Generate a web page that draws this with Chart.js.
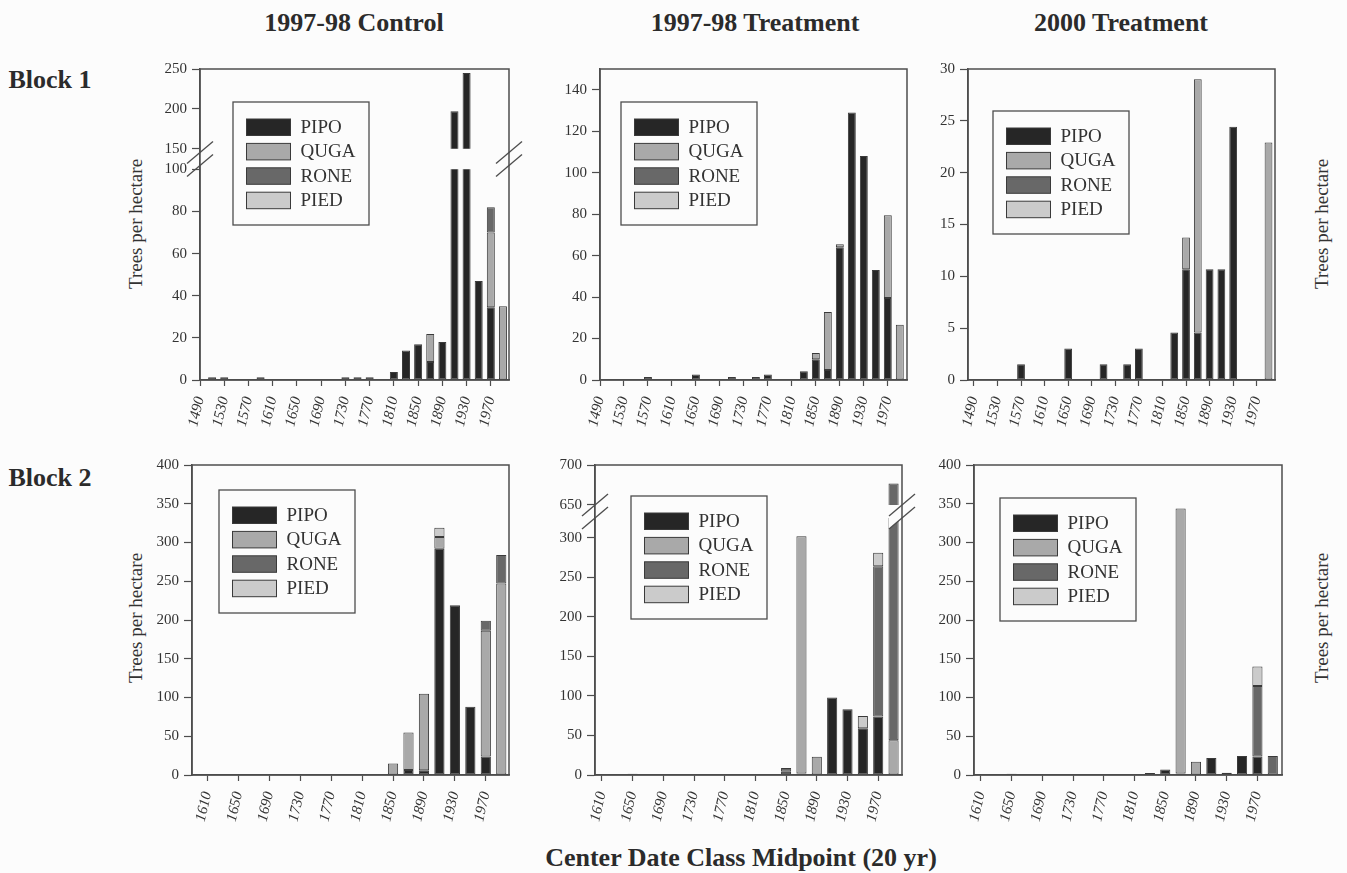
<!DOCTYPE html>
<html>
<head>
<meta charset="utf-8">
<title>Trees per hectare by center date class</title>
<script src="https://cdn.jsdelivr.net/npm/chart.js@4.4.1/dist/chart.umd.min.js"></script>
<style>
  html, body { margin: 0; padding: 0; background: #fcfcfc; }
  #fig { position: relative; width: 1347px; height: 873px; overflow: hidden;
         font-family: "Liberation Serif", "Times New Roman", serif; color: #2b2b2b; }
  #fig canvas { position: absolute; }
  .lbl { position: absolute; white-space: nowrap; line-height: 1; transform: translate(-50%, -50%); }
  .bold { font-weight: bold; font-size: 26px; }
  .ytitle { font-size: 19px; transform: translate(-50%, -50%) rotate(-90deg); color: #333; }
</style>
</head>
<body>
<div id="fig">
  <div class="lbl bold" style="left:354px; top:23px">1997-98 Control</div>
  <div class="lbl bold" style="left:755px; top:23px">1997-98 Treatment</div>
  <div class="lbl bold" style="left:1121px; top:23px">2000 Treatment</div>
  <div class="lbl bold" style="left:50px; top:80px">Block 1</div>
  <div class="lbl bold" style="left:50px; top:478px">Block 2</div>
  <div class="lbl ytitle" style="left:135px; top:224px">Trees per hectare</div>
  <div class="lbl ytitle" style="left:135px; top:618px">Trees per hectare</div>
  <div class="lbl ytitle" style="left:1321px; top:224px">Trees per hectare</div>
  <div class="lbl ytitle" style="left:1321px; top:618px">Trees per hectare</div>
  <div class="lbl bold" style="left:741px; top:858px">Center Date Class Midpoint (20 yr)</div>
</div>
<script>
// 20-yr date classes (class midpoints)
const years1 = [1490, 1510, 1530, 1550, 1570, 1590, 1610, 1630, 1650, 1670, 1690, 1710, 1730,
                1750, 1770, 1790, 1810, 1830, 1850, 1870, 1890, 1910, 1930, 1950, 1970, 1990];
const years2 = [1610, 1630, 1650, 1670, 1690, 1710, 1730, 1750, 1770, 1790,
                1810, 1830, 1850, 1870, 1890, 1910, 1930, 1950, 1970, 1990];
const ticks1 = [1490, 1530, 1570, 1610, 1650, 1690, 1730, 1770, 1810, 1850, 1890, 1930, 1970];
const ticks2 = [1610, 1650, 1690, 1730, 1770, 1810, 1850, 1890, 1930, 1970];

const species = ['PIPO', 'QUGA', 'RONE', 'PIED'];
const speciesColors = ['#262626', '#a9a9a9', '#686868', '#cbcbcb'];

// Block 1, 1997-98 control
const b1ControlPIPO = [0, 1.3, 1.3, 0, 0, 1.3, 0, 0, 0, 0, 0, 0, 1.3, 1.3, 1.3, 0, 3.8, 14, 17, 8.5, 18, 197, 245, 47, 34.5, 0];
const b1ControlQUGA = [0, 0, 0, 0, 0, 0, 0, 0, 0, 0, 0, 0, 0, 0, 0, 0, 0, 0, 0, 13.3, 0, 0, 0, 0, 35.5, 35];
const b1ControlRONE = [0, 0, 0, 0, 0, 0, 0, 0, 0, 0, 0, 0, 0, 0, 0, 0, 0, 0, 0, 0, 0, 0, 0, 0, 12, 0];
const b1ControlPIED = [0, 0, 0, 0, 0, 0, 0, 0, 0, 0, 0, 0, 0, 0, 0, 0, 0, 0, 0, 0, 0, 0, 0, 0, 0, 0];

// Block 1, 1997-98 treatment
const b1TreatPIPO = [0, 0, 0, 0, 1.5, 0, 0, 0, 2.7, 0, 0, 1.5, 0, 1.5, 2.7, 0, 0, 4.2, 10, 4.8, 64, 129, 108, 53, 39.5, 0];
const b1TreatQUGA = [0, 0, 0, 0, 0, 0, 0, 0, 0, 0, 0, 0, 0, 0, 0, 0, 0, 0, 3, 28, 1.5, 0, 0, 0, 40, 26.6];
const b1TreatRONE = [0, 0, 0, 0, 0, 0, 0, 0, 0, 0, 0, 0, 0, 0, 0, 0, 0, 0, 0, 0, 0, 0, 0, 0, 0, 0];
const b1TreatPIED = [0, 0, 0, 0, 0, 0, 0, 0, 0, 0, 0, 0, 0, 0, 0, 0, 0, 0, 0, 0, 0, 0, 0, 0, 0, 0];

// Block 1, 2000 treatment
const b1T2000PIPO = [0, 0, 0, 0, 1.53, 0, 0, 0, 3.05, 0, 0, 1.53, 0, 1.53, 3.05, 0, 0, 4.58, 10.69, 4.58, 10.69, 10.69, 24.43, 0, 0, 0];
const b1T2000QUGA = [0, 0, 0, 0, 0, 0, 0, 0, 0, 0, 0, 0, 0, 0, 0, 0, 0, 0, 3.05, 24.43, 0, 0, 0, 0, 0, 22.9];
const b1T2000RONE = [0, 0, 0, 0, 0, 0, 0, 0, 0, 0, 0, 0, 0, 0, 0, 0, 0, 0, 0, 0, 0, 0, 0, 0, 0, 0];
const b1T2000PIED = [0, 0, 0, 0, 0, 0, 0, 0, 0, 0, 0, 0, 0, 0, 0, 0, 0, 0, 0, 0, 0, 0, 0, 0, 0, 0];

// Block 2, 1997-98 control
const b2ControlPIPO = [0, 0, 0, 1, 0, 1, 0, 0, 1, 0, 0, 1, 0, 6.5, 6, 292, 219, 88, 24, 0];
const b2ControlQUGA = [0, 0, 0, 0, 0, 0, 0, 0, 0, 0, 0, 0, 15, 48.5, 99, 15, 0, 0, 162, 247];
const b2ControlRONE = [0, 0, 0, 0, 0, 0, 0, 0, 0, 0, 0, 0, 0, 0, 0, 0, 0, 0, 13, 37];
const b2ControlPIED = [0, 0, 0, 0, 0, 0, 0, 0, 0, 0, 0, 0, 0, 0, 0, 12, 0, 0, 0, 0];

// Block 2, 1997-98 treatment
const b2TreatPIPO = [0, 0, 1.5, 0, 0, 0, 0, 0, 0, 0, 1, 1, 4, 2, 0, 98, 83, 59, 74, 0];
const b2TreatQUGA = [0, 0, 0, 0, 0, 0, 0, 0, 0, 0, 0, 0, 0, 300, 23, 0, 0, 0, 0, 44];
const b2TreatRONE = [0, 0, 0, 0, 0, 0, 0, 0, 0, 0, 0, 0, 5, 0, 0, 0, 0, 0, 190, 633];
const b2TreatPIED = [0, 0, 0, 0, 0, 0, 0, 0, 0, 0, 0, 0, 0, 0, 0, 0, 0, 15.5, 17, 0];

// Block 2, 2000 treatment
const b2T2000PIPO = [0, 0, 1.5, 0, 0, 0, 0, 0, 0, 0, 0, 2.5, 7, 2, 0, 22, 3, 24.5, 24, 0];
const b2T2000QUGA = [0, 0, 0, 0, 0, 0, 0, 0, 0, 0, 0, 0, 0, 342, 17, 0, 0, 0, 0, 0];
const b2T2000RONE = [0, 0, 0, 0, 0, 0, 0, 0, 0, 0, 0, 0, 0, 0, 0, 0, 0, 0, 91, 24.5];
const b2T2000PIED = [0, 0, 0, 0, 0, 0, 0, 0, 0, 0, 0, 0, 0, 0, 0, 0, 0, 0, 25, 0];

const yTicksB1Control = [0, 20, 40, 60, 80, 100, 150, 200, 250];
const yTicksB1Treat = [0, 20, 40, 60, 80, 100, 120, 140];
const yTicksB1T2000 = [0, 5, 10, 15, 20, 25, 30];
const yTicks400 = [0, 50, 100, 150, 200, 250, 300, 350, 400];
const yTicksB2Treat = [0, 50, 100, 150, 200, 250, 300, 650, 700];

const textColor = '#333333';
const axisColor = '#4d4d4d';
const barEdge = '#3a3a3a';
const paper = '#fcfcfc';
const serif = '"Liberation Serif", "Times New Roman", serif';

// linear axis with a cut between lowMax and highMin
class BrokenScale extends Chart.LinearScale {
  static id = 'broken';
  _marks() {
    const h = this.bottom - this.top;
    return { yLow: this.bottom - this.options.lowFrac * h, yHigh: this.top + this.options.highFrac * h };
  }
  getPixelForValue(value) {
    const o = this.options;
    const { yLow, yHigh } = this._marks();
    if (value <= o.lowMax) return this.bottom - (value - this.min) / (o.lowMax - this.min) * (this.bottom - yLow);
    if (value >= o.highMin) return yHigh - (value - o.highMin) / (this.max - o.highMin) * (yHigh - this.top);
    return yLow - (value - o.lowMax) / (o.highMin - o.lowMax) * (yLow - yHigh);
  }
  getValueForPixel(pixel) {
    const o = this.options;
    const { yLow, yHigh } = this._marks();
    if (pixel >= yLow) return this.min + (this.bottom - pixel) / (this.bottom - yLow) * (o.lowMax - this.min);
    if (pixel <= yHigh) return o.highMin + (yHigh - pixel) / (yHigh - this.top) * (this.max - o.highMin);
    return o.lowMax + (yLow - pixel) / (yLow - yHigh) * (o.highMin - o.lowMax);
  }
}
Chart.register(BrokenScale);

// frame, axis break marks and the boxed legend
const panelDeco = {
  id: 'panelDeco',
  beforeDatasetsDraw(chart) {
    const y = chart.scales.y;
    if (y.type !== 'broken') return;
    const { left, right, top, bottom } = chart.chartArea;
    const yLow = y.getPixelForValue(y.options.lowMax);
    const yHigh = y.getPixelForValue(y.options.highMin);
    const ctx = chart.ctx;
    ctx.save();
    ctx.beginPath();
    ctx.rect(left, top, right - left, yHigh - top);
    ctx.rect(left, yLow, right - left, bottom - yLow);
    ctx.clip();
  },
  afterDatasetsDraw(chart) {
    const y = chart.scales.y;
    if (y.type !== 'broken') return;
    const ctx = chart.ctx;
    ctx.restore();
    const { left, right, top, bottom } = chart.chartArea;
    const yc = (y.getPixelForValue(y.options.lowMax) + y.getPixelForValue(y.options.highMin)) / 2;
    ctx.save();
    ctx.beginPath();
    ctx.rect(left, top, right - left, bottom - top);
    ctx.clip();
    ctx.fillStyle = paper;
    [left, right].forEach(x => {
      ctx.beginPath();
      ctx.moveTo(x - 13, yc - 6.5 + 11);
      ctx.lineTo(x + 13, yc - 6.5 - 11);
      ctx.lineTo(x + 13, yc + 6.5 - 11);
      ctx.lineTo(x - 13, yc + 6.5 + 11);
      ctx.closePath();
      ctx.fill();
    });
    ctx.restore();
  },
  afterDraw(chart, args, opts) {
    const ctx = chart.ctx;
    const { left, right, top, bottom } = chart.chartArea;
    ctx.save();
    ctx.strokeStyle = axisColor;
    ctx.lineWidth = 1.5;
    ctx.strokeRect(left, top, right - left, bottom - top);

    const y = chart.scales.y;
    if (y.type === 'broken') {
      const yc = (y.getPixelForValue(y.options.lowMax) + y.getPixelForValue(y.options.highMin)) / 2;
      ctx.lineWidth = 1.3;
      [left, right].forEach(x => {
        [-6.5, 6.5].forEach(off => {
          ctx.beginPath();
          ctx.moveTo(x - 13, yc + off + 11);
          ctx.lineTo(x + 13, yc + off - 11);
          ctx.stroke();
        });
      });
    }

    // legend box
    const bx = left + opts.legendX, by = top + opts.legendY;
    ctx.fillStyle = paper;
    ctx.fillRect(bx, by, 136, 123);
    ctx.lineWidth = 1.3;
    ctx.strokeStyle = axisColor;
    ctx.strokeRect(bx, by, 136, 123);
    ctx.font = '19px ' + serif;
    ctx.textBaseline = 'middle';
    ctx.textAlign = 'left';
    chart.data.datasets.forEach((ds, i) => {
      const sy = by + 17 + i * 24.4;
      ctx.fillStyle = ds.backgroundColor;
      ctx.fillRect(bx + 13.5, sy, 44, 16.5);
      ctx.lineWidth = 1;
      ctx.strokeStyle = ds.borderColor;
      ctx.strokeRect(bx + 13.5, sy, 44, 16.5);
      ctx.fillStyle = textColor;
      ctx.fillText(ds.label, bx + 67.5, sy + 9);
    });
    ctx.restore();
  }
};

const panels = [
  { plot: { x: 200, y: 69, w: 309, h: 311 }, years: years1, xTicks: ticks1, xMin: 1490, xMax: 2000,
    series: [b1ControlPIPO, b1ControlQUGA, b1ControlRONE, b1ControlPIED],
    y: { type: 'broken', min: 0, max: 250, lowMax: 100, highMin: 150, lowFrac: 0.6775, highFrac: 0.2563 },
    yTicks: yTicksB1Control, legend: [33, 33] },
  { plot: { x: 600, y: 69, w: 307, h: 311 }, years: years1, xTicks: ticks1, xMin: 1490, xMax: 2002,
    series: [b1TreatPIPO, b1TreatQUGA, b1TreatRONE, b1TreatPIED],
    y: { type: 'linear', min: 0, max: 150 }, yTicks: yTicksB1Treat, legend: [21, 33] },
  { plot: { x: 968, y: 69, w: 307, h: 311 }, years: years1, xTicks: ticks1, xMin: 1480, xMax: 2001,
    series: [b1T2000PIPO, b1T2000QUGA, b1T2000RONE, b1T2000PIED],
    y: { type: 'linear', min: 0, max: 30 }, yTicks: yTicksB1T2000, legend: [25, 42] },
  { plot: { x: 192, y: 465, w: 317, h: 310 }, years: years2, xTicks: ticks2, xMin: 1590, xMax: 2000,
    series: [b2ControlPIPO, b2ControlQUGA, b2ControlRONE, b2ControlPIED],
    y: { type: 'linear', min: 0, max: 400 }, yTicks: yTicks400, legend: [27, 25] },
  { plot: { x: 595, y: 465, w: 307, h: 310 }, years: years2, xTicks: ticks2, xMin: 1601, xMax: 2001,
    series: [b2TreatPIPO, b2TreatQUGA, b2TreatRONE, b2TreatPIED],
    y: { type: 'broken', min: 0, max: 700, lowMax: 325, highMin: 650, lowFrac: 0.829, highFrac: 0.129 },
    yTicks: yTicksB2Treat, legend: [36, 31] },
  { plot: { x: 974, y: 465, w: 308, h: 310 }, years: years2, xTicks: ticks2, xMin: 1601, xMax: 2002,
    series: [b2T2000PIPO, b2T2000QUGA, b2T2000RONE, b2T2000PIED],
    y: { type: 'linear', min: 0, max: 400 }, yTicks: yTicks400, legend: [26, 33] }
];

const AXIS_W = 64, AXIS_H = 60, PAD_T = 14, PAD_R = 18;
const fig = document.getElementById('fig');

panels.forEach(p => {
  const cv = document.createElement('canvas');
  const w = AXIS_W + p.plot.w + PAD_R;
  const h = PAD_T + p.plot.h + AXIS_H;
  cv.width = w;
  cv.height = h;
  cv.style.left = (p.plot.x - AXIS_W) + 'px';
  cv.style.top = (p.plot.y - PAD_T) + 'px';
  cv.style.width = w + 'px';
  cv.style.height = h + 'px';
  fig.appendChild(cv);

  new Chart(cv, {
    type: 'bar',
    data: {
      labels: p.years,
      datasets: species.map((name, i) => ({
        label: name,
        data: p.series[i],
        backgroundColor: speciesColors[i],
        borderColor: barEdge,
        borderWidth: 1,
        borderSkipped: false,
        barPercentage: 0.66,
        categoryPercentage: 1
      }))
    },
    options: {
      responsive: false,
      animation: false,
      devicePixelRatio: 1,
      events: [],
      layout: { padding: { top: PAD_T, right: PAD_R, left: 0, bottom: 0 } },
      plugins: {
        legend: { display: false },
        tooltip: { enabled: false },
        panelDeco: { legendX: p.legend[0], legendY: p.legend[1] }
      },
      scales: {
        x: {
          type: 'linear',
          bounds: 'data',
          offset: false,
          min: p.xMin,
          max: p.xMax,
          stacked: true,
          afterBuildTicks: axis => { axis.ticks = p.xTicks.map(v => ({ value: v })); },
          afterFit: axis => { axis.height = AXIS_H; },
          grid: { offset: false, drawOnChartArea: false, drawTicks: true, tickLength: 6, tickColor: axisColor, tickWidth: 1.2 },
          border: { display: true, color: axisColor, width: 1.5 },
          ticks: {
            autoSkip: false,
            minRotation: 77,
            maxRotation: 77,
            padding: 9,
            color: textColor,
            font: { family: serif, size: 15, style: 'italic' },
            callback: v => String(v)
          }
        },
        y: Object.assign({
          bounds: 'data',
          stacked: true,
          afterBuildTicks: axis => { axis.ticks = p.yTicks.map(v => ({ value: v })); },
          afterFit: axis => { axis.width = AXIS_W; },
          grid: { drawOnChartArea: false, drawTicks: true, tickLength: 8, tickColor: axisColor, tickWidth: 1.2 },
          border: { display: true, color: axisColor, width: 1.5 },
          ticks: {
            autoSkip: false,
            padding: 5,
            color: textColor,
            font: { family: serif, size: 15 },
            callback: v => String(v)
          }
        }, p.y)
      }
    },
    plugins: [panelDeco]
  });
});
</script>
</body>
</html>
